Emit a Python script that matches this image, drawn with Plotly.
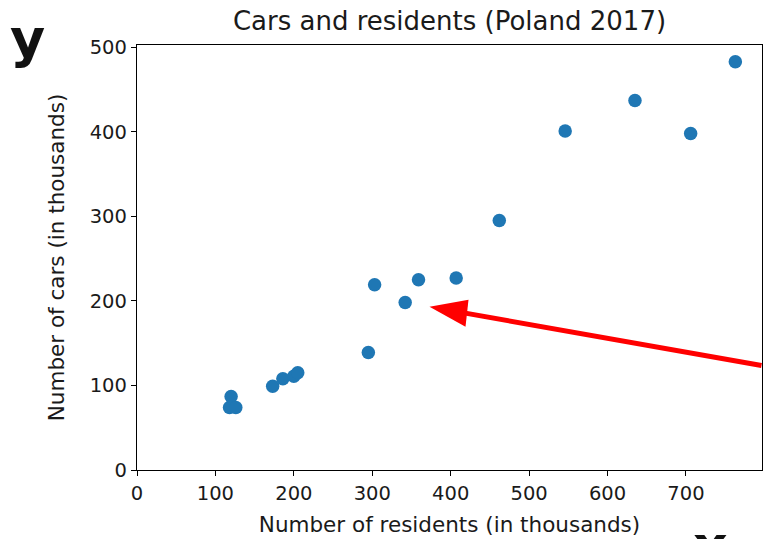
import plotly.graph_objects as go

# Residents and registered cars per city (thousands)
residents = [120, 118, 126, 173, 186, 200, 205, 295, 303, 342, 359, 407, 462, 546, 635, 706, 763]
cars = [87, 74, 74, 99, 108, 111, 115, 139, 219, 198, 225, 227, 295, 401, 437, 398, 483]

x_ticks = [0, 100, 200, 300, 400, 500, 600, 700]
y_ticks = [0, 100, 200, 300, 400, 500]

# Tip of the pointer arrow, in data units
arrow_tip = (373, 193)

FONT = "DejaVu Sans"
TXT = "#1a1a1a"

fig = go.Figure(
    go.Scatter(
        x=residents,
        y=cars,
        mode="markers",
        marker=dict(size=13.5, color="#1f77b4", line=dict(width=0)),
        hoverinfo="x+y",
    )
)

axis_common = dict(
    showline=True,
    linecolor="black",
    linewidth=1.3,
    mirror=True,
    ticks="outside",
    ticklen=5,
    tickwidth=1.3,
    tickcolor="black",
    showgrid=False,
    zeroline=False,
    tickfont=dict(family=FONT, size=19.5, color=TXT),
)

fig.update_xaxes(
    range=[0, 797],
    tickvals=x_ticks,
    title=dict(text="Number of residents (in thousands)",
               font=dict(family=FONT, size=21.5, color=TXT), standoff=13),
    **axis_common,
)
fig.update_yaxes(
    range=[0, 502.7],
    tickvals=y_ticks,
    title=dict(text="Number of cars (in thousands)",
               font=dict(family=FONT, size=21.5, color=TXT), standoff=19),
    **axis_common,
)

# Arrow shaft (ends inside the head)
fig.add_annotation(
    x=arrow_tip[0], y=arrow_tip[1], xref="x", yref="y",
    text="", showarrow=True, arrowhead=0, arrowwidth=5, arrowcolor="#ff0000",
    ax=345, ay=59, axref="pixel", ayref="pixel", standoff=22,
)
# Arrow head
fig.add_shape(
    type="path",
    xref="x", yref="y",
    xsizemode="pixel", ysizemode="pixel",
    xanchor=arrow_tip[0], yanchor=arrow_tip[1],
    path="M0,0 L39,7 L36,-20 Z",
    fillcolor="#ff0000",
    line=dict(width=0),
)

# Big axis letters
fig.add_annotation(
    x=-0.206, y=1.094, xref="paper", yref="paper", xanchor="left", yanchor="top",
    text="<b>y</b>", showarrow=False,
    font=dict(family=FONT, size=54, color="#111111"),
)
fig.add_annotation(
    x=0.886, y=-0.099, xref="paper", yref="paper", xanchor="left", yanchor="top",
    text="<b>x</b>", showarrow=False,
    font=dict(family=FONT, size=54, color="#111111"),
)

fig.update_layout(
    width=763,
    height=539,
    margin=dict(l=137, r=1, t=45, b=69),
    paper_bgcolor="white",
    plot_bgcolor="white",
    showlegend=False,
    title=dict(
        text="Cars and residents (Poland 2017)",
        x=0.5, xref="paper", xanchor="center",
        y=1 - 21 / 539, yref="container", yanchor="middle",
        font=dict(family=FONT, size=26, color=TXT),
    ),
)

fig.write_html("out.html")
